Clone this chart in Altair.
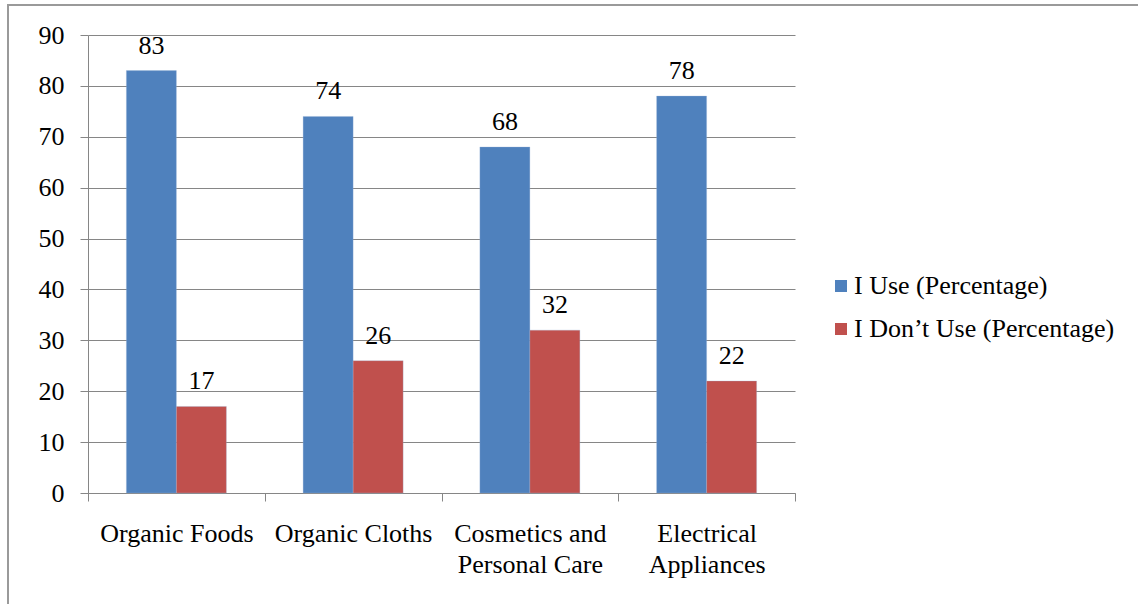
import altair as alt
import pandas as pd

categories = ["Organic Foods", "Organic Cloths", "Cosmetics and\nPersonal Care", "Electrical\nAppliances"]
series_names = ["I Use (Percentage)", "I Don\u2019t Use (Percentage)"]
use_values = [83, 74, 68, 78]
dont_use_values = [17, 26, 32, 22]
colors = ["#4F81BD", "#C0504D"]
y_ticks = [0, 10, 20, 30, 40, 50, 60, 70, 80, 90]

rows = []
for c, u, d in zip(categories, use_values, dont_use_values):
    rows.append({"category": c, "series": series_names[0], "value": u})
    rows.append({"category": c, "series": series_names[1], "value": d})
df = pd.DataFrame(rows)

FONT = "Liberation Serif"
GRID = "#868686"
FS = 26

x_enc = alt.X(
    "category:N",
    sort=categories,
    scale=alt.Scale(paddingInner=0, paddingOuter=0),
    axis=alt.Axis(
        title=None,
        labelAngle=0,
        labelExpr="split(datum.label, '\\n')",
        labelFont=FONT,
        labelFontSize=FS,
        labelLineHeight=31,
        labelColor="black",
        labelPadding=19,
        tickBand="extent",
        tickSize=8,
        tickColor=GRID,
        domainColor=GRID,
        grid=False,
        labelLimit=300,
    ),
)
y_enc = alt.Y(
    "value:Q",
    scale=alt.Scale(domain=[0, 90], nice=False),
    axis=alt.Axis(
        title=None,
        values=y_ticks,
        labelFont=FONT,
        labelFontSize=FS,
        labelColor="black",
        labelPadding=16,
        tickSize=8,
        tickColor=GRID,
        domainColor=GRID,
        gridColor=GRID,
        grid=True,
    ),
)
xoff = alt.XOffset("series:N", sort=series_names, scale=alt.Scale(paddingInner=0, paddingOuter=0.7675))

base = alt.Chart(df)

bars = base.mark_bar(stroke="#9ab6d8", strokeWidth=0.5, strokeOpacity=0.6).encode(
    x=x_enc,
    xOffset=xoff,
    y=y_enc,
    color=alt.Color(
        "series:N",
        sort=series_names,
        scale=alt.Scale(domain=series_names, range=colors),
        legend=alt.Legend(
            title=None,
            orient="none",
            legendX=740,
            legendY=238,
            symbolType="square",
            symbolSize=144,
            symbolStrokeWidth=0,
            labelFont=FONT,
            labelFontSize=FS,
            labelColor="black",
            rowPadding=17,
            labelOffset=0,
            labelLimit=400,
        ),
    ),
)

labels = base.mark_text(font=FONT, fontSize=FS, color="black", baseline="alphabetic", dy=-17).encode(
    x=alt.X("category:N", sort=categories),
    xOffset=alt.XOffset("series:N", sort=series_names),
    y="value:Q",
    text="value:Q",
)

frame_top = base.mark_rule(color="#9a9a9a", strokeWidth=2).encode(
    x=alt.value(-80), x2=alt.value(1060), y=alt.value(-30)
)
frame_left = base.mark_rule(color="#9a9a9a", strokeWidth=2).encode(
    x=alt.value(-80), y=alt.value(-31), y2=alt.value(580)
)

chart = (
    alt.layer(bars, labels, frame_top, frame_left)
    .properties(
        width=707,
        height=458,
        autosize=alt.AutoSizeParams(type="none"),
        padding={"left": 88, "top": 35, "right": 343, "bottom": 111},
        background="white",
    )
    .configure_view(strokeWidth=0)
)

chart.save("out.html", embed_options={"renderer": "svg", "actions": False})
